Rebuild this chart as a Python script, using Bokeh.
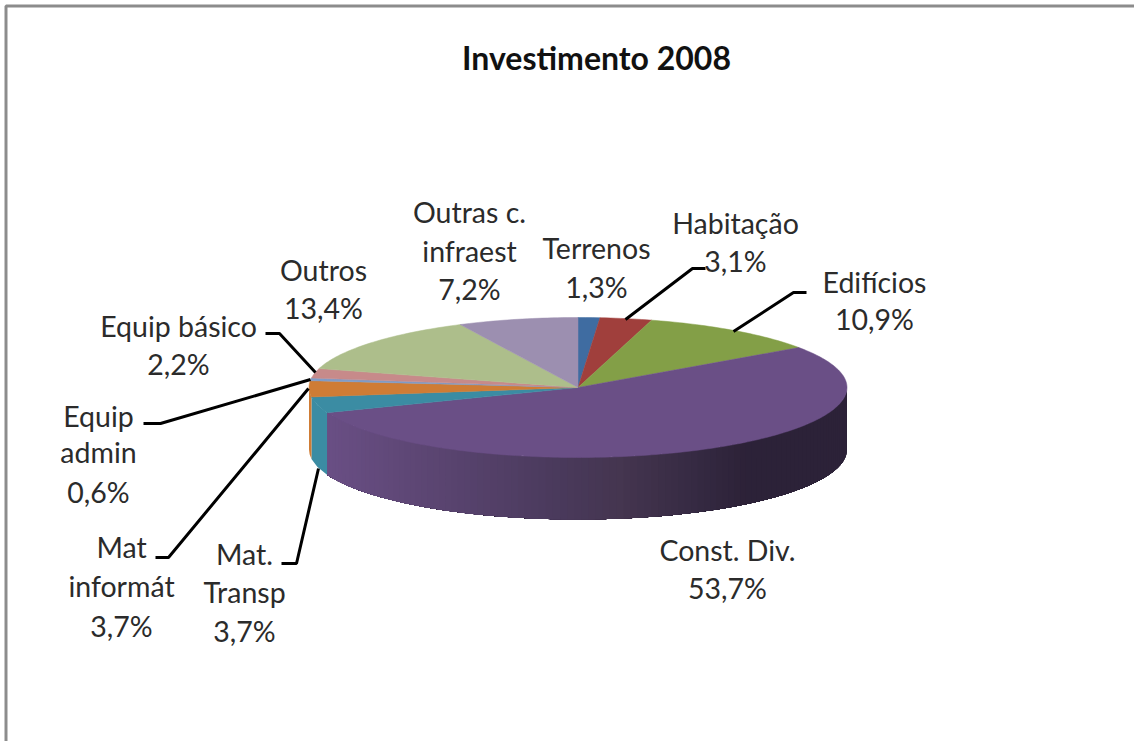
import numpy as np
from bokeh.plotting import figure
from bokeh.models import Range1d
from bokeh.core.properties import value
from bokeh.embed import file_html
from bokeh.resources import INLINE

title = "Investimento 2008"
categories = ["Terrenos", "Habitação", "Edifícios", "Const. Div.", "Mat. Transp", "Mat informát",
              "Equip admin", "Equip básico", "Outros", "Outras c. infraest"]
percent = [1.3, 3.1, 10.9, 53.7, 3.7, 3.7, 0.6, 2.2, 13.4, 7.2]
pct_text = ["1,3%", "3,1%", "10,9%", "53,7%", "3,7%", "3,7%", "0,6%", "2,2%", "13,4%", "7,2%"]
top_colors = ["#3f6ca1", "#a03f3c", "#839f47", "#6a4f86", "#3b8ca3", "#cf7c35",
              "#7f9cc8", "#c78a8a", "#adbe8b", "#9c8fb0"]

# layout of the pie, in page pixels
CX, CY, RX, RY, DEPTH = 577.5, 387, 269, 70, 62
FONT = "Lato"
TEXT = "#2b2b2b"
FS = "28.5px"

label_lines = [
    (["Terrenos", "1,3%"], 596, [247, 286]),
    (["Habitação", "3,1%"], 735, [222, 260]),
    (["Edifícios", "10,9%"], 874, [281, 318]),
    (["Const. Div.", "53,7%"], 727, [549, 587]),
    (["Mat.", "Transp", "3,7%"], 244, [553, 591, 630]),
    (["Mat", "informát", "3,7%"], 121, [546, 585, 625]),
    (["Equip", "admin", "0,6%"], 98, [415, 451, 491]),
    (["Equip básico", "2,2%"], 178, [325, 363]),
    (["Outros", "13,4%"], 323, [269, 307]),
    (["Outras c.", "infraest", "7,2%"], 469, [211, 250, 288]),
]
leaders = [
    ([705, 692, 625], [268, 268, 319]),
    ([806, 793, 733], [292, 292, 331]),
    ([281, 296, 318], [563, 563, 468]),
    ([155, 168, 308], [557, 557, 388]),
    ([143, 160, 310], [423, 423, 379]),
    ([265, 279, 315], [333, 333, 372]),
]
wall_x = [326, 560, 620, 700, 745, 847]
wall_r = [0x6a, 0x4a, 0x45, 0x35, 0x2d, 0x2c]
wall_g = [0x4f, 0x3a, 0x36, 0x2a, 0x22, 0x22]
wall_b = [0x85, 0x5c, 0x50, 0x42, 0x38, 0x38]

shares = np.array(percent) / sum(percent)
edges = np.concatenate([[0], np.cumsum(shares)]) * 2 * np.pi


def px(a):
    return CX + RX * np.sin(a)


def py(a):
    return CY - RY * np.cos(a)


p = figure(width=1134, height=741, x_range=Range1d(0, 1134), y_range=Range1d(741, 0),
           output_backend="svg", toolbar_location=None, min_border=0, outline_line_color=None,
           background_fill_color="white", border_fill_color="white")
p.xaxis.visible = False
p.yaxis.visible = False
p.grid.visible = False

# outer frame of the chart area
p.line([1134, 5.5, 5.5], [5.5, 5.5, 741], line_color="#8c8c8c", line_width=3)

# side wall, only where it faces the viewer; each piece runs on to the end of
# its slice and is painted over by the next, so no seams show between pieces
wall_xs, wall_ys, wall_cs = [], [], []
for i in range(len(percent)):
    a0 = max(edges[i], np.pi / 2)
    a1 = min(edges[i + 1], 1.5 * np.pi)
    if a1 <= a0:
        continue
    n = max(1, int((a1 - a0) / np.radians(1.5))) if i == 3 else 1
    aa = np.linspace(a0, a1, n + 1)
    for j in range(n):
        t = np.linspace(aa[j], a1, max(3, (n - j) * 3))
        xs = list(px(t)) + list(px(t[::-1]))
        ys = list(py(t)) + list(py(t[::-1]) + DEPTH)
        if i == 3:
            xm = float(px((aa[j] + aa[j + 1]) / 2))
            c = "#%02x%02x%02x" % tuple(int(np.interp(xm, wall_x, ch)) for ch in (wall_r, wall_g, wall_b))
        else:
            c = top_colors[i]
        wall_xs.append(xs)
        wall_ys.append(ys)
        wall_cs.append(c)
p.patches(wall_xs, wall_ys, fill_color=wall_cs, line_color=None)

# top surface
top_xs, top_ys = [], []
for i in range(len(percent)):
    n = max(3, int((edges[i + 1] - edges[i]) / np.radians(1)))
    t = np.linspace(edges[i], edges[i + 1], n)
    top_xs.append([CX] + list(px(t)))
    top_ys.append([CY] + list(py(t)))
p.patches(top_xs, top_ys, fill_color=top_colors, line_color=top_colors, line_width=0.5)

# leader lines
for lx, ly in leaders:
    p.line(lx, ly, line_color="black", line_width=3)

# labels
for lines, x, ys in label_lines:
    p.text([x] * len(lines), ys, text=lines, text_font=value(FONT), text_font_size=value(FS),
           text_color=TEXT, text_align="center", text_baseline="middle")
p.text([596], [57], text=[title], text_font=value(FONT), text_font_size=value("32px"),
       text_font_style="bold", text_color="#111111", text_align="center", text_baseline="middle")

open("out.html", "w").write(file_html(p, INLINE))
